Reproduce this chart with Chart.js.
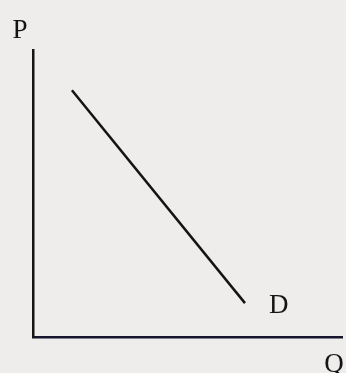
<!DOCTYPE html>
<html>
<head>
<meta charset="utf-8">
<script src="https://cdn.jsdelivr.net/npm/chart.js@4"></script>
<style>
  html, body { margin: 0; padding: 0; background: #eeedec; }
  #wrap { width: 346px; height: 373px; position: relative; }
</style>
</head>
<body>
<div id="wrap"><canvas id="demandChart"></canvas></div>
<script>
// demand curve D: two end points (quantity, price)
const demandQ = [1.26, 6.86];
const demandP = [8.6, 1.18];

// axis range
const qRange = [0, 10];
const pRange = [0, 10];

// text labels
const axisLabels = { y: 'P', x: 'Q' };
const curveLabel = 'D';
const curveLabelAt = [7.95, 1.1];

const ink = '#141414';
const serif = '"Liberation Serif", "DejaVu Serif", serif';

// draws P, Q and D as text on the canvas
const labelPlugin = {
  id: 'labels',
  afterDraw(chart) {
    const { ctx, chartArea, scales } = chart;
    ctx.save();
    ctx.fillStyle = ink;
    ctx.font = '27px ' + serif;
    ctx.textAlign = 'center';
    ctx.textBaseline = 'alphabetic';
    ctx.fillText(axisLabels.y, chartArea.left - 13, chartArea.top - 12);
    ctx.fillText(axisLabels.x, chartArea.right - 8, chartArea.bottom + 35);
    ctx.textBaseline = 'middle';
    ctx.fillText(curveLabel, scales.x.getPixelForValue(curveLabelAt[0]), scales.y.getPixelForValue(curveLabelAt[1]));
    ctx.restore();
  }
};

new Chart(document.getElementById('demandChart'), {
  type: 'scatter',
  data: {
    datasets: [{
      label: 'D',
      data: demandQ.map((q, i) => ({ x: q, y: demandP[i] })),
      showLine: true,
      borderColor: ink,
      borderWidth: 2.5,
      pointRadius: 0,
      fill: false
    }]
  },
  options: {
    responsive: true,
    maintainAspectRatio: false,
    animation: false,
    layout: { padding: { left: 33, top: 50, right: 4, bottom: 36 } },
    plugins: { legend: { display: false }, tooltip: { enabled: false } },
    scales: {
      x: {
        type: 'linear',
        min: qRange[0], max: qRange[1],
        ticks: { display: false },
        grid: { display: false, drawTicks: false },
        border: { display: true, color: '#15152e', width: 2.5 },
        afterFit(s) { s.height = 0; }
      },
      y: {
        type: 'linear',
        min: pRange[0], max: pRange[1],
        ticks: { display: false },
        grid: { display: false, drawTicks: false },
        border: { display: true, color: ink, width: 2.5 },
        afterFit(s) { s.width = 0; }
      }
    }
  },
  plugins: [labelPlugin]
});
</script>
</body>
</html>
